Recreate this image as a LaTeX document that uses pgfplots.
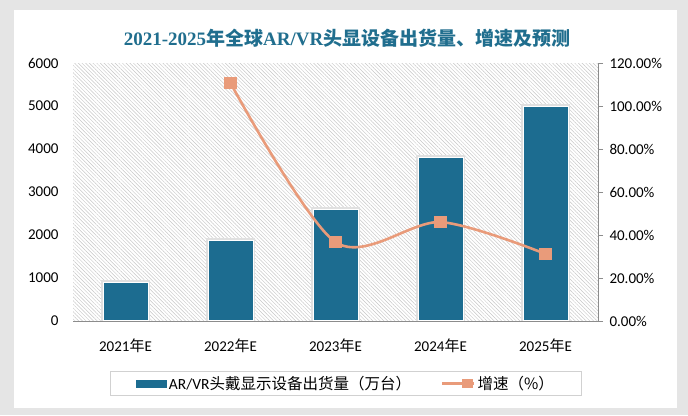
\documentclass[border=0pt]{standalone}
\usepackage{pgfplots}
\pgfplotsset{compat=1.18}
\usetikzlibrary{patterns.meta}
\usepackage{fontspec}
\setmainfont{Carlito}
\newfontfamily\cjk{Noto Sans CJK SC}
\newfontfamily\tser{Liberation Serif}
\definecolor{barblue}{RGB}{28,108,144}
\definecolor{lineorange}{RGB}{233,155,122}
\definecolor{titleblue}{RGB}{32,110,142}
\definecolor{axisgray}{RGB}{140,140,140}
\begin{document}
\begin{tikzpicture}
\useasboundingbox (0pt,0pt) rectangle (688pt,415pt);
\fill[black!10] (0pt,0pt) rectangle (688pt,415pt);
\fill[white] (14pt,7pt) rectangle (677pt,405pt);
\node[font=\bfseries\fontsize{19}{21}\selectfont, text=titleblue] at (347pt,377pt)
  {{\tser 2021-2025}{\cjk 年全球}{\tser AR/VR}{\cjk 头显设备出货量、增速及预测}};

% bars: shipments (10k units)
\begin{axis}[
  at={(73pt,94pt)}, anchor=south west,
  scale only axis, width=525pt, height=258pt,
  xmin=-0.5, xmax=4.5, ymin=0, ymax=6000,
  ytick={0,1000,...,6000},
  xtick={0,...,4},
  xticklabels={2021{\cjk 年}E,2022{\cjk 年}E,2023{\cjk 年}E,2024{\cjk 年}E,2025{\cjk 年}E},
  axis x line*=bottom, axis y line*=left,
  x axis line style={draw=axisgray, line width=0.8pt, -},
  y axis line style={draw=none},
  major tick length=0pt,
  tick label style={font=\fontsize{15}{17}\selectfont},
  yticklabel style={xshift=-11pt},
  xticklabel style={yshift=-14pt},
  /pgf/number format/assume math mode=true,
  scaled y ticks=false,
  yticklabel={\pgfmathprintnumber[fixed,set thousands separator={}]{\tick}},
  axis background/.style={pattern={Lines[angle=-45,distance=2.6pt,line width=0.45pt]}, pattern color=black!22},
  ybar, bar width=45pt,
]
\addplot[fill=barblue, draw=white, line width=1pt,
  preaction={draw=black!12, line width=4.5pt}]
  coordinates {(0,900) (1,1880) (2,2600) (3,3800) (4,5000)};
\end{axis}

% line: growth rate
\begin{axis}[
  at={(73pt,94pt)}, anchor=south west,
  scale only axis, width=525pt, height=258pt,
  xmin=-0.5, xmax=4.5, ymin=0, ymax=120,
  ytick={0,20,...,120},
  axis y line*=right, axis x line=none,
  y axis line style={draw=axisgray, line width=0.8pt, -},
  ytick style={draw=axisgray, line width=0.8pt},
  tick align=outside, major tick length=5pt,
  tick label style={font=\fontsize{15}{17}\selectfont},
  yticklabel style={xshift=3pt},
  /pgf/number format/assume math mode=true,
  yticklabel={\pgfmathprintnumber[fixed,fixed zerofill,precision=2]{\tick}\%},
  legend style={at={(0.52,-0.242)}, anchor=center, draw=black!18, line width=0.8pt,
    font=\fontsize{15.5}{17}\selectfont, inner xsep=26pt, inner ysep=3pt,
    /tikz/every even column/.append style={column sep=28pt}},
  legend columns=2,
]
\addplot[forget plot, smooth, color=lineorange, line width=2.6pt, mark=square*, mark size=5pt]
  coordinates {(1,110.7) (2,36.7) (3,46.0) (4,31.2)};
\addlegendimage{legend image code/.code={\fill[barblue] (0pt,-3.5pt) rectangle (30pt,3.5pt);}}
\addlegendimage{legend image code/.code={\draw[lineorange, line width=2.6pt] (0pt,0pt) -- (32pt,0pt); \fill[lineorange] (20pt,-4pt) rectangle (30pt,4pt);}}
\legend{{AR/VR\cjk 头戴显示设备出货量（万台）},{\cjk 增速（\%）}}
\end{axis}
\end{tikzpicture}
\end{document}
